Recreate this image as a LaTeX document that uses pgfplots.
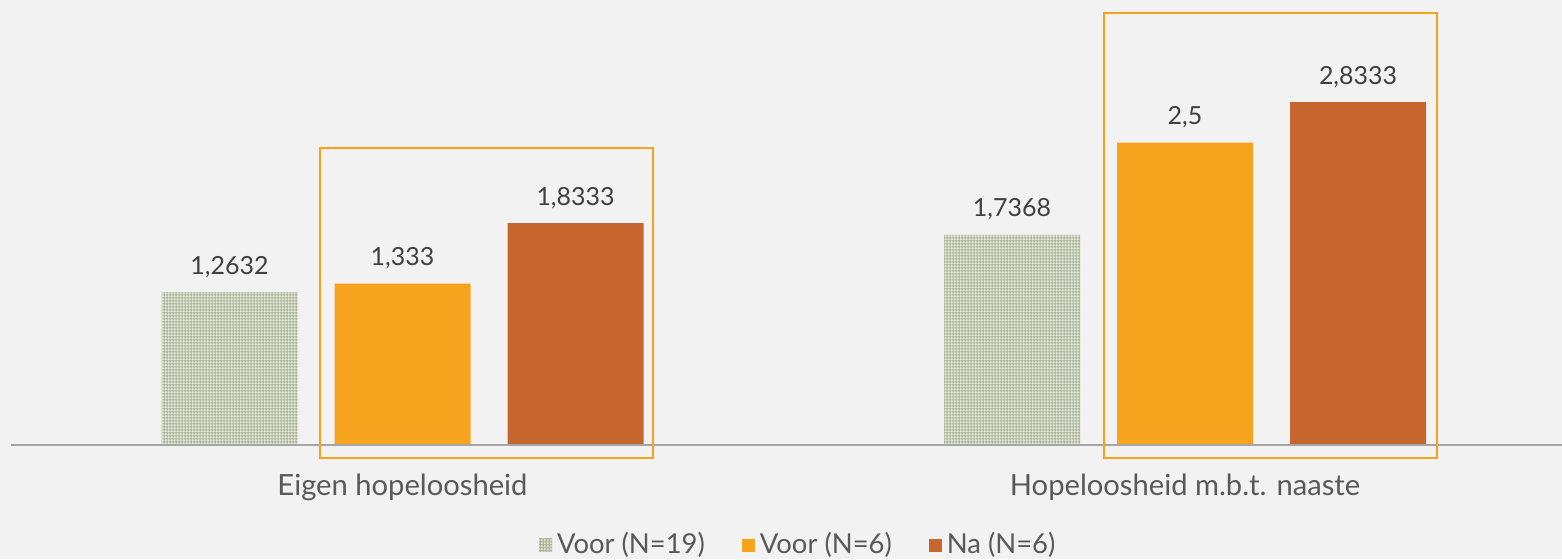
\documentclass[border=0pt]{standalone}
\usepackage{pgfplots}
\pgfplotsset{compat=1.18}
\usepackage{fontspec}
\setmainfont{Lato}
\usetikzlibrary{patterns.meta,backgrounds}

\definecolor{bg}{HTML}{F2F2F2}
\definecolor{patbg}{HTML}{F0F2EA}
\definecolor{patfg}{HTML}{B0B99C}
\definecolor{oranje}{HTML}{F6A31E}
\definecolor{roest}{HTML}{C7652F}
\definecolor{kader}{HTML}{F7A21B}
\definecolor{aslijn}{HTML}{A6A6A6}
\definecolor{labeltext}{HTML}{404040}
\definecolor{astext}{HTML}{595959}

\begin{document}
\begin{tikzpicture}[show background rectangle, inner frame sep=0pt,
  background rectangle/.style={fill=bg, draw=none}]
\useasboundingbox (0,-11.4mm) rectangle (156.2mm,44.5mm);
\begin{axis}[
    at={(0,0)}, anchor=south west,
    scale only axis, width=156.2mm, height=44.5mm,
    xmin=-0.5144, xmax=1.4818, ymin=0, ymax=3.678,
    clip=false,
    axis line style={draw=none},
    major tick length=0pt,
    ytick=\empty,
    xtick={0,1},
    xticklabels={Eigen hopeloosheid, Hopeloosheid m.b.t. naaste},
    xticklabel style={anchor=base, yshift=-5mm, font=\fontsize{8.3}{10}\selectfont, text=astext},
    ybar, bar shift=0pt, bar width=0.1738,
    nodes near coords,
    nodes near coords style={anchor=base, inner sep=0pt, yshift=1.8mm,
      font=\fontsize{7.1}{8}\selectfont, text=labeltext},
    /pgf/number format/.cd, use comma, precision=4, assume math mode=true, /pgfplots/.cd,
    legend columns=3,
    legend style={at={(0.512,-0.2247)}, anchor=center, draw=none, fill=none,
      font=\fontsize{7.8}{9}\selectfont, text=astext,
      /tikz/every even column/.append style={column sep=3.2mm},
      nodes={inner sep=0.5mm}},
    sq legend/.style={legend image code/.code={
      \path[##1] (0mm,-0.65mm) rectangle (1.3mm,0.65mm);}},
]
% Voor (N=19)
\addplot[fill=patbg, draw=none, sq legend,
  postaction={pattern={Hatch[distance=0.94pt, angle=0, line width=0.45pt]}, pattern color=patfg}]
  coordinates {(-0.2211,1.2632) (0.7789,1.7368)};
\addlegendentry{Voor (N=19)}
% Voor (N=6)
\addplot[fill=oranje, draw=none, sq legend]
  coordinates {(0,1.333) (1,2.5)};
\addlegendentry{Voor (N=6)}
% Na (N=6)
\addplot[fill=roest, draw=none, sq legend]
  coordinates {(0.2211,1.8333) (1.2211,2.8333)};
\addlegendentry{Na (N=6)}

\draw[aslijn, line width=0.2mm] (axis cs:-0.5003,0) -- (axis cs:1.4818,0);
\draw[kader, line width=0.2mm] (axis cs:-0.105,-0.107) rectangle (axis cs:0.320,2.455);
\draw[kader, line width=0.2mm] (axis cs:0.8965,-0.107) rectangle (axis cs:1.322,3.570);
\end{axis}
\end{tikzpicture}
\end{document}
